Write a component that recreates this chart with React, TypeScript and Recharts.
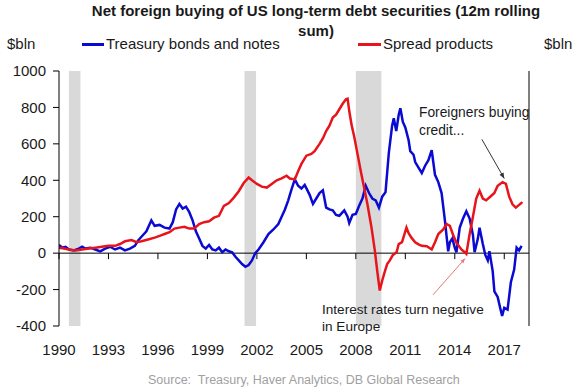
import React from "react";
import {
  LineChart,
  Line,
  XAxis,
  YAxis,
  ReferenceArea,
  ReferenceLine,
} from "recharts";

const BLUE = "#0a0ad2";
const RED = "#e8141b";
const FONT = "'Liberation Sans', Arial, sans-serif";

const treasuryYears = [
  1990.0, 1990.2, 1990.4, 1990.6, 1990.9, 1991.2, 1991.4, 1991.6, 1991.9, 1992.2,
  1992.5, 1992.8, 1993.1, 1993.4, 1993.7, 1994.0, 1994.3, 1994.6, 1994.8, 1995.0,
  1995.3, 1995.6, 1995.8, 1996.1, 1996.4, 1996.7, 1996.9, 1997.1, 1997.3, 1997.5,
  1997.7, 1997.9, 1998.1, 1998.3, 1998.5, 1998.7, 1998.9, 1999.1, 1999.3, 1999.5,
  1999.7, 1999.9, 2000.1, 2000.3, 2000.5, 2000.7, 2000.9, 2001.1, 2001.3, 2001.5,
  2001.7, 2001.9, 2002.1, 2002.4, 2002.7, 2003.0, 2003.3, 2003.5, 2003.7, 2003.9,
  2004.1, 2004.3, 2004.5, 2004.7, 2004.9, 2005.2, 2005.4, 2005.6, 2005.8, 2006.0,
  2006.2, 2006.4, 2006.6, 2006.8, 2007.0, 2007.2, 2007.3, 2007.5, 2007.6, 2007.8,
  2008.0, 2008.2, 2008.4, 2008.6, 2008.8, 2009.0, 2009.2, 2009.4, 2009.6, 2009.8,
  2010.0, 2010.2, 2010.3, 2010.45, 2010.6, 2010.7, 2010.85, 2011.0, 2011.2, 2011.3,
  2011.5, 2011.6, 2011.8, 2012.0, 2012.2, 2012.4, 2012.6, 2012.8, 2013.0, 2013.2,
  2013.4, 2013.6, 2013.7, 2013.85, 2014.0, 2014.1, 2014.3, 2014.5, 2014.7, 2014.9,
  2015.1, 2015.2, 2015.4, 2015.5, 2015.7, 2015.85, 2016.0, 2016.1, 2016.3, 2016.4,
  2016.6, 2016.75, 2016.87, 2017.0, 2017.2, 2017.4, 2017.6, 2017.75, 2017.9, 2018.05,
];
const treasuryValues = [
  45, 30, 35, 20, 15, 25, 35, 25, 30, 20,
  10, 25, 35, 20, 30, 15, 25, 40, 70, 90,
  120, 180, 150, 155, 140, 135, 170, 240, 270, 245,
  255, 225, 180, 120, 80, 40, 25, 45, 20, 15,
  30, 5, 20, 10, 5, -20, -40, -60, -75, -65,
  -40, 0, 20, 60, 105, 130, 160, 200, 240, 290,
  350, 405, 370, 355, 375, 320, 270, 300, 330, 345,
  250, 240, 235, 210, 205, 225, 235, 200, 165, 210,
  215, 260, 300, 370, 330, 300, 290, 250, 310, 335,
  550, 700, 740, 670, 760, 795, 720, 690, 620, 560,
  540, 500, 470, 440, 480, 510, 565, 430, 390, 330,
  180, 10, 60, 80, 30, 5, 140, 190, 230, 190,
  100, 5, 80, 140, 50, -10, -40, 10, -100, -210,
  -240, -300, -345, -300, -310, -160, -90, 30, 15, 40,
];

const spreadYears = [
  1990.0, 1990.3, 1990.6, 1991.0, 1991.4, 1991.8, 1992.2, 1992.6, 1993.0, 1993.4,
  1993.7, 1994.0, 1994.4, 1994.7, 1995.0, 1995.4, 1995.8, 1996.1, 1996.4, 1996.7,
  1997.0, 1997.3, 1997.6, 1997.9, 1998.2, 1998.5, 1998.8, 1999.1, 1999.4, 1999.7,
  2000.0, 2000.3, 2000.6, 2000.9, 2001.2, 2001.5, 2001.7, 2002.0, 2002.3, 2002.6,
  2002.9, 2003.2, 2003.5, 2003.8, 2004.0, 2004.3, 2004.5, 2004.7, 2005.0, 2005.3,
  2005.5, 2005.8, 2006.0, 2006.2, 2006.4, 2006.6, 2006.8, 2007.0, 2007.2, 2007.4,
  2007.5, 2007.6, 2007.75, 2007.9, 2008.1, 2008.3, 2008.5, 2008.7, 2008.95, 2009.15,
  2009.3, 2009.45, 2009.6, 2009.76, 2009.9, 2010.06, 2010.25, 2010.47, 2010.6, 2010.8,
  2011.07, 2011.2, 2011.37, 2011.6, 2011.8, 2012.0, 2012.3, 2012.6, 2012.8, 2013.0,
  2013.3, 2013.5, 2013.7, 2013.9, 2014.1, 2014.4, 2014.6, 2014.7, 2014.9, 2015.1,
  2015.3, 2015.5, 2015.7, 2015.9, 2016.2, 2016.4, 2016.6, 2016.9, 2017.1, 2017.3,
  2017.5, 2017.7, 2017.9, 2018.1,
];
const spreadValues = [
  30, 25, 20, 15, 20, 25, 30, 35, 40, 40,
  50, 65, 72, 60, 65, 75, 85, 95, 105, 115,
  135, 140, 145, 135, 135, 160, 170, 175, 195, 205,
  260, 275, 305, 340, 385, 415, 400, 380, 365, 360,
  380, 400, 410, 425, 410, 405, 450, 490, 535, 545,
  560, 600, 630, 670, 700, 745, 760, 790, 820, 845,
  848, 780, 700, 640, 545, 450, 360, 270, 140, 15,
  -100, -205, -150, -100, -60, -40, -10, 5, 50, 60,
  140, 110, 85, 60, 48, 40, 38, 20, 60, 105,
  130, 160, 150, 100, 57, 20, 5, -4, 105, 200,
  300, 343, 300, 290, 314, 330, 370, 390, 380, 310,
  268, 250, 265, 280,
];

// recession shading
const recessions = [
  [1990.6, 1991.3],
  [2001.25, 2001.95],
  [2008.0, 2009.55],
];

const yearTicks = [1990, 1993, 1996, 1999, 2002, 2005, 2008, 2011, 2014, 2017];
const valueTicks = [-400, -200, 0, 200, 400, 600, 800, 1000];

const treasuryData = treasuryYears.map((t, i) => ({ t, v: treasuryValues[i] }));
const spreadData = spreadYears.map((t, i) => ({ t, v: spreadValues[i] }));

function makeArrow(color: string, head: number) {
  return (props: any) => {
    const { x1, y1, x2, y2 } = props;
    const a = Math.atan2(y2 - y1, x2 - x1);
    const p1x = x2 - head * Math.cos(a - 0.4);
    const p1y = y2 - head * Math.sin(a - 0.4);
    const p2x = x2 - head * Math.cos(a + 0.4);
    const p2y = y2 - head * Math.sin(a + 0.4);
    return (
      <g>
        <line x1={x1} y1={y1} x2={x2} y2={y2} stroke={color} strokeWidth={1} />
        <polygon points={`${x2},${y2} ${p1x},${p1y} ${p2x},${p2y}`} fill={color} />
      </g>
    );
  };
}

const tickStyle = { fontSize: 15, fill: "#1a1a1a", fontFamily: FONT };

export default function App() {
  return (
    <div
      style={{
        position: "absolute",
        left: 0,
        top: 0,
        width: 588,
        height: 387,
        background: "#fff",
        fontFamily: FONT,
      }}
    >
      <div
        style={{
          position: "absolute",
          left: 66,
          top: 1,
          width: 500,
          textAlign: "center",
          fontWeight: "bold",
          fontSize: 15,
          lineHeight: "20px",
          color: "#1a1a1a",
        }}
      >
        Net foreign buying of US long-term debt securities (12m rolling
        <br />
        sum)
      </div>
      <div style={{ position: "absolute", left: 7, top: 35, fontSize: 15, color: "#1a1a1a" }}>$bln</div>
      <div style={{ position: "absolute", left: 544, top: 35, fontSize: 15, color: "#1a1a1a" }}>$bln</div>
      <div style={{ position: "absolute", left: 82, top: 43, width: 22, height: 3, background: BLUE }} />
      <div style={{ position: "absolute", left: 106, top: 35, fontSize: 15, color: "#1a1a1a" }}>
        Treasury bonds and notes
      </div>
      <div style={{ position: "absolute", left: 358, top: 43, width: 23, height: 3, background: RED }} />
      <div style={{ position: "absolute", left: 383, top: 35, fontSize: 15, color: "#1a1a1a" }}>
        Spread products
      </div>

      <LineChart
        width={588}
        height={387}
        margin={{ top: 71, right: 9, bottom: 31, left: 9 }}
      >
        <XAxis
          dataKey="t"
          type="number"
          domain={[1990, 2018.5]}
          ticks={yearTicks}
          allowDataOverflow
          axisLine={false}
          tickLine={false}
          tickSize={0}
          tickMargin={18}
          height={30}
          tick={tickStyle}
          xAxisId="x"
        />
        <YAxis
          yAxisId="left"
          domain={[-400, 1000]}
          ticks={valueTicks}
          width={50}
          axisLine={{ stroke: "#000" }}
          tickLine={{ stroke: "#000" }}
          tickSize={6}
          tickMargin={7}
          tick={tickStyle}
        />
        <YAxis
          yAxisId="right"
          orientation="right"
          domain={[-400, 1000]}
          ticks={valueTicks}
          width={50}
          axisLine={{ stroke: "#000" }}
          tickLine={{ stroke: "#000" }}
          tickSize={6}
          tickMargin={5}
          tick={tickStyle}
        />
        {recessions.map(([a, b], i) => (
          <ReferenceArea
            key={`rec-${i}`}
            xAxisId="x"
            yAxisId="left"
            x1={a}
            x2={b}
            y1={-400}
            y2={1000}
            fill="#d9d9d9"
            fillOpacity={1}
            stroke="none"
          />
        ))}
        <ReferenceLine xAxisId="x" yAxisId="left" y={0} stroke="#000" strokeWidth={1} />
        {yearTicks.map((yr) => (
          <ReferenceLine
            key={`tick-${yr}`}
            xAxisId="x"
            yAxisId="left"
            segment={[
              { x: yr, y: 0 },
              { x: yr, y: -33 },
            ]}
            stroke="#000"
            strokeWidth={1}
          />
        ))}
        <Line
          xAxisId="x"
          yAxisId="left"
          data={treasuryData}
          dataKey="v"
          type="linear"
          stroke={BLUE}
          strokeWidth={2.5}
          dot={false}
          isAnimationActive={false}
        />
        <Line
          xAxisId="x"
          yAxisId="left"
          data={spreadData}
          dataKey="v"
          type="linear"
          stroke={RED}
          strokeWidth={2.5}
          dot={false}
          isAnimationActive={false}
        />
        <ReferenceLine
          xAxisId="x"
          yAxisId="left"
          segment={[
            { x: 2015.64, y: 625 },
            { x: 2017.0, y: 410 },
          ]}
          shape={makeArrow("#333", 6)}
        />
        <ReferenceLine
          xAxisId="x"
          yAxisId="left"
          segment={[
            { x: 2012.68, y: -229 },
            { x: 2014.62, y: -30 },
          ]}
          shape={makeArrow("#e07a7a", 5)}
        />
      </LineChart>

      <div
        style={{
          position: "absolute",
          left: 419,
          top: 104,
          fontSize: 13.8,
          lineHeight: "18px",
          color: "#1a1a1a",
          whiteSpace: "nowrap",
        }}
      >
        Foreigners buying
        <br />
        credit...
      </div>
      <div
        style={{
          position: "absolute",
          left: 322,
          top: 301,
          fontSize: 13.6,
          lineHeight: "17px",
          color: "#1a1a1a",
          whiteSpace: "nowrap",
        }}
      >
        Interest rates turn negative
        <br />
        in Europe
      </div>
      <div
        style={{
          position: "absolute",
          left: 148,
          top: 373,
          fontSize: 12.5,
          color: "#a0a0a0",
          whiteSpace: "pre",
        }}
      >
        {"Source:  Treasury, Haver Analytics, DB Global Research"}
      </div>
    </div>
  );
}
